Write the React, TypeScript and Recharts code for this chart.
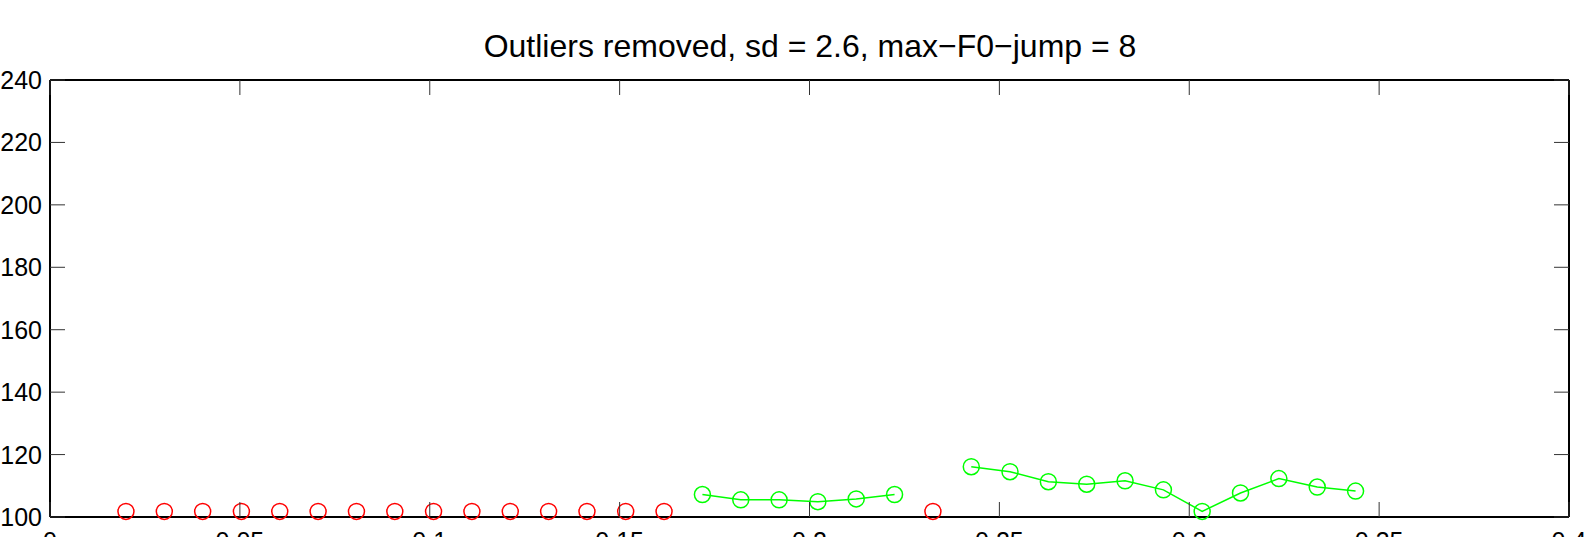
import React from 'react';
import { ScatterChart, Scatter, XAxis, YAxis } from 'recharts';

const TITLE = 'Outliers removed, sd = 2.6, max\u2212F0\u2212jump = 8';

const xTicks = [0, 0.05, 0.1, 0.15, 0.2, 0.25, 0.3, 0.35, 0.4];
const yTicks = [100, 120, 140, 160, 180, 200, 220, 240];

// removed (outlier) frames
const redTimes = [
  0.02, 0.0301, 0.0402, 0.0504, 0.0605, 0.0706, 0.0807, 0.0908, 0.101, 0.1111,
  0.1212, 0.1313, 0.1414, 0.1516, 0.1617, 0.2325,
];
const redF0 = [
  101.8, 101.8, 101.8, 101.8, 101.8, 101.8, 101.8, 101.8, 101.8, 101.8,
  101.8, 101.8, 101.8, 101.8, 101.8, 101.8,
];

// kept F0 contour, segment 1
const greenTimesA = [0.1718, 0.1819, 0.192, 0.2022, 0.2123, 0.2224];
const greenF0A = [107.2, 105.5, 105.5, 104.9, 105.8, 107.2];

// kept F0 contour, segment 2
const greenTimesB = [
  0.2426, 0.2528, 0.2629, 0.273, 0.2831, 0.2932, 0.3034, 0.3135, 0.3236, 0.3337, 0.3438,
];
const greenF0B = [116.1, 114.5, 111.3, 110.5, 111.6, 108.7, 101.8, 107.7, 112.3, 109.6, 108.3];

const toPts = (xs: number[], ys: number[]) => xs.map((x, i) => ({ x, y: ys[i] }));
const redData = toPts(redTimes, redF0);
const greenDataA = toPts(greenTimesA, greenF0A);
const greenDataB = toPts(greenTimesB, greenF0B);

const FONT = '"Liberation Sans", Arial, Helvetica, sans-serif';
const TICK = 15;
const TICK_COLOR = '#333';

const LeftTick = (p: any) => (
  <g>
    <line x1={p.x} y1={p.y} x2={p.x + TICK} y2={p.y} stroke={TICK_COLOR} strokeWidth={1} />
    <text x={p.x - 8} y={p.y} dy={9} textAnchor="end" fontSize={25} fill="#000" fontFamily={FONT}>
      {String(p.payload.value)}
    </text>
  </g>
);
const RightTick = (p: any) => (
  <line x1={p.x} y1={p.y} x2={p.x - TICK} y2={p.y} stroke={TICK_COLOR} strokeWidth={1} />
);
const BottomTick = (p: any) => (
  <g>
    <line x1={p.x} y1={p.y} x2={p.x} y2={p.y - TICK} stroke={TICK_COLOR} strokeWidth={1} />
    <text x={p.x} y={p.y} dy={33} textAnchor="middle" fontSize={25} fill="#000" fontFamily={FONT}>
      {String(p.payload.value)}
    </text>
  </g>
);
const TopTick = (p: any) => (
  <line x1={p.x} y1={p.y} x2={p.x} y2={p.y + TICK} stroke={TICK_COLOR} strokeWidth={1} />
);

const ring = (color: string) => (p: any) => (
  <circle cx={p.cx} cy={p.cy} r={8} fill="none" stroke={color} strokeWidth={1.5} />
);
const nothing = () => <g />;

export default function App() {
  return (
    <div style={{ position: 'absolute', left: 0, top: 0, width: 1587, height: 537, overflow: 'hidden', background: '#fff' }}>
      <ScatterChart width={1587} height={560} margin={{ top: 79, right: 17, bottom: 0, left: 0 }}>
        <XAxis
          xAxisId="b"
          type="number"
          dataKey="x"
          domain={[0, 0.4]}
          ticks={xTicks}
          interval={0}
          height={43}
          tickSize={0}
          tickMargin={0}
          tickLine={false}
          axisLine={{ stroke: '#000', strokeWidth: 2 }}
          tick={<BottomTick />}
        />
        <XAxis
          xAxisId="t"
          orientation="top"
          type="number"
          dataKey="x"
          domain={[0, 0.4]}
          ticks={xTicks}
          interval={0}
          height={1}
          tickSize={0}
          tickMargin={0}
          tickLine={false}
          axisLine={{ stroke: '#000', strokeWidth: 2 }}
          tick={<TopTick />}
        />
        <YAxis
          yAxisId="l"
          type="number"
          dataKey="y"
          domain={[100, 240]}
          ticks={yTicks}
          interval={0}
          width={50}
          tickSize={0}
          tickMargin={0}
          tickLine={false}
          axisLine={{ stroke: '#000', strokeWidth: 2 }}
          tick={<LeftTick />}
        />
        <YAxis
          yAxisId="r"
          orientation="right"
          type="number"
          dataKey="y"
          domain={[100, 240]}
          ticks={yTicks}
          interval={0}
          width={1}
          tickSize={0}
          tickMargin={0}
          tickLine={false}
          axisLine={{ stroke: '#000', strokeWidth: 2 }}
          tick={<RightTick />}
        />
        <Scatter
          xAxisId="t"
          yAxisId="r"
          data={redData}
          shape={nothing}
          isAnimationActive={false}
        />
        <Scatter
          xAxisId="b"
          yAxisId="l"
          data={redData}
          shape={ring('#ff0000')}
          isAnimationActive={false}
        />
        <Scatter
          xAxisId="b"
          yAxisId="l"
          data={greenDataA}
          line={{ stroke: '#00ff00', strokeWidth: 1.5 }}
          lineType="joint"
          shape={ring('#00ff00')}
          isAnimationActive={false}
        />
        <Scatter
          xAxisId="b"
          yAxisId="l"
          data={greenDataB}
          line={{ stroke: '#00ff00', strokeWidth: 1.5 }}
          lineType="joint"
          shape={ring('#00ff00')}
          isAnimationActive={false}
        />
      </ScatterChart>
      <svg width={1587} height={100} style={{ position: 'absolute', left: 0, top: 0, pointerEvents: 'none' }}>
        <text x={810} y={57} textAnchor="middle" fontSize={32} fill="#000" fontFamily={FONT}>
          {TITLE}
        </text>
      </svg>
    </div>
  );
}
